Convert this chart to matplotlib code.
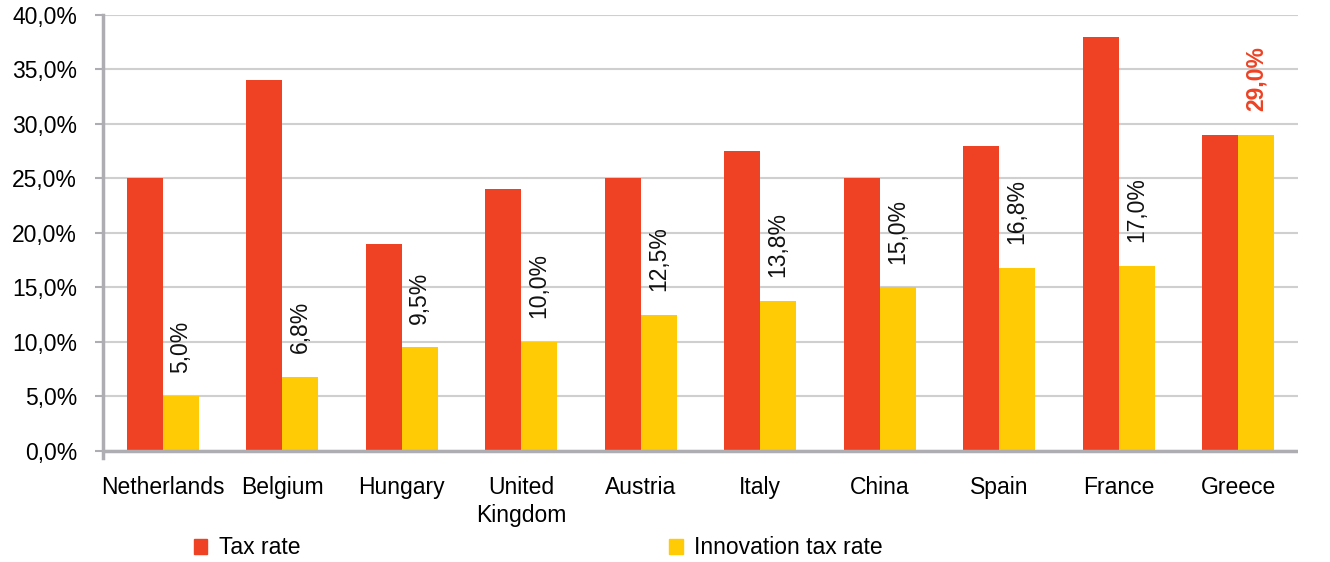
import numpy as np
import matplotlib.pyplot as plt
from matplotlib.patches import Patch

plt.rcParams['font.family'] = ['Liberation Sans', 'DejaVu Sans']

countries = ['Netherlands', 'Belgium', 'Hungary', 'United\nKingdom', 'Austria',
             'Italy', 'China', 'Spain', 'France', 'Greece']
tax_rate = [25.0, 34.0, 19.0, 24.0, 25.0, 27.5, 25.0, 28.0, 38.0, 29.0]
innovation_rate = [5.0, 6.8, 9.5, 10.0, 12.5, 13.8, 15.0, 16.8, 17.0, 29.0]
yticks = [0, 5, 10, 15, 20, 25, 30, 35, 40]

red = '#EF4123'
yellow = '#FFCB05'
grey = '#AEAEB2'
fs = 16.5

fig = plt.figure(figsize=(13.3, 5.62), dpi=100)
ax = fig.add_axes([0.0774, 0.185, 0.8986, 0.7883])

x = np.arange(len(countries))
w = 0.3
ax.bar(x - w / 2, tax_rate, w, color=red, zorder=3)
ax.bar(x + w / 2, innovation_rate, w, color=yellow, zorder=3)

# value labels above innovation bars
for i, v in enumerate(innovation_rate):
    last = i == len(innovation_rate) - 1
    ax.annotate(f'{v:.1f}%'.replace('.', ','), (x[i] + w / 2, v),
                xytext=(0, 17), textcoords='offset points', rotation=90,
                ha='center', va='bottom', fontsize=fs,
                color=red if last else '#111111',
                fontweight='bold' if last else 'normal')

ax.set_xlim(-0.5, len(countries) - 0.5)
ax.set_ylim(-0.65, 40)
ax.set_yticks(yticks)
ax.set_yticklabels([f'{t:.1f}%'.replace('.', ',') for t in yticks], fontsize=fs)
ax.set_xticks(x)
ax.set_xticklabels(countries, fontsize=fs, linespacing=1.25)
ax.tick_params(axis='x', length=0, pad=13)
ax.tick_params(axis='y', length=6, width=1.5, color=grey, pad=12.5)

ax.grid(axis='y', color='#CFCFCF', linewidth=1.5, zorder=0)
ax.axhline(0, color=grey, linewidth=2.5, zorder=4)
for s in ['top', 'right', 'bottom']:
    ax.spines[s].set_visible(False)
ax.spines['left'].set_color(grey)
ax.spines['left'].set_linewidth(2.5)

handles = [Patch(color=red, label='Tax rate'), Patch(color=yellow, label='Innovation tax rate')]
fig.legend(handles=handles, loc='center left', bbox_to_anchor=(0.1455, 0.025), ncol=2,
           frameon=False, fontsize=fs, handlelength=0.6, handleheight=0.6,
           handletextpad=0.5, columnspacing=16.1, borderaxespad=0, borderpad=0)

fig.savefig('out.png', dpi=100)
